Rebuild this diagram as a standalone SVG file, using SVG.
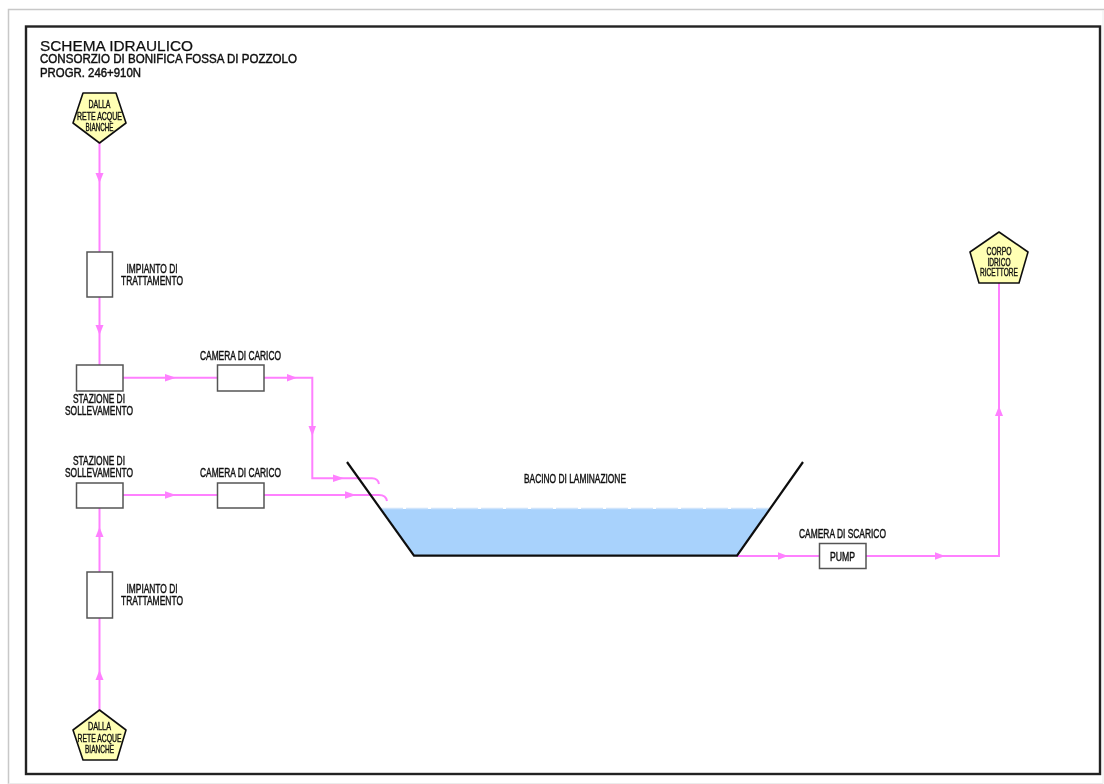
<svg xmlns="http://www.w3.org/2000/svg" width="1104" height="784" viewBox="0 0 1104 784">
<defs><filter id="soft" x="0" y="0" width="100%" height="100%" filterUnits="objectBoundingBox"><feGaussianBlur stdDeviation="0.5"/></filter></defs>
<style>
text{font-family:"Liberation Sans",Arial,sans-serif;fill:#111}
.l{font-size:12.5px;stroke:#111;stroke-width:.45;text-anchor:middle}
.s{font-size:10.5px;stroke:#111;stroke-width:.4;text-anchor:middle}
.box{fill:#fff;stroke:#555;stroke-width:1.5}
.pent{fill:#ffffb4;stroke:#111;stroke-width:1.6;stroke-linejoin:round}
.pipe{fill:none;stroke:#ff80ff;stroke-width:2}
.ah{fill:#ff80ff}
</style>
<rect width="1104" height="784" fill="#fff"/>
<g filter="url(#soft)">
<rect x="0" y="0" width="1104" height="784" fill="#fff"/>
<path d="M1104 9.500H8.500V784" fill="none" stroke="#c8c8c8" stroke-width="1.500"/>
<path d="M8.500 783.500H1103V10" fill="none" stroke="#ececec" stroke-width="1"/>
<rect x="26" y="26.500" width="1074" height="747.500" fill="none" stroke="#222" stroke-width="2.400"/>
<g id="title">
<text x="40" y="51" font-size="15.500" stroke="#111" stroke-width=".25" textLength="153" lengthAdjust="spacingAndGlyphs">SCHEMA IDRAULICO</text>
<text x="40" y="63" font-size="12.500" stroke="#111" stroke-width=".45" textLength="257" lengthAdjust="spacingAndGlyphs">CONSORZIO DI BONIFICA FOSSA DI POZZOLO</text>
<text x="40" y="77" font-size="12" stroke="#111" stroke-width=".45" textLength="101" lengthAdjust="spacingAndGlyphs">PROGR. 246+910N</text>
</g>
<g id="connectors">
<path class="pipe" d="M99.500 143V252M99.500 297V365"/>
<path class="pipe" d="M99.500 710V618M99.500 572V508"/>
<path class="pipe" d="M123 377.700H217M264 377.700H312.300V478.300H372Q378 478.300 379 484"/>
<path class="pipe" d="M123 495H217M264 495H379Q386 495 387 501"/>
<path class="pipe" d="M737 556H819M866 556H999V283"/>
<path class="ah" d="M95.500 173H103.500L99.500 183Z"/>
<path class="ah" d="M95.500 325H103.500L99.500 335Z"/>
<path class="ah" d="M95.500 680H103.500L99.500 670Z"/>
<path class="ah" d="M95.500 537H103.500L99.500 527Z"/>
<path class="ah" d="M165 374V381.500L176 377.700Z"/>
<path class="ah" d="M287 374V381.500L297 377.700Z"/>
<path class="ah" d="M165 491.300V498.700L176 495Z"/>
<path class="ah" d="M333 474.600V482L344 478.300Z"/>
<path class="ah" d="M345 491.300V498.700L356 495Z"/>
<path class="ah" d="M308.500 426H316L312.300 436Z"/>
<path class="ah" d="M778 552.300V559.700L788 556Z"/>
<path class="ah" d="M935 552.300V559.700L945 556Z"/>
<path class="ah" d="M995 416H1003L999 406Z"/>
</g>
<g id="bacino">
<path d="M381 509H770L737 556H414Z" fill="#a8d2fc"/>
<path d="M381 508.500H770" fill="none" stroke="#cfe4fb" stroke-width="1.500" stroke-dasharray="22 3"/>
<path d="M347 462L414 555.700H737L803 462" fill="none" stroke="#111" stroke-width="2.200"/>
<text class="l" x="575" y="483" textLength="102" lengthAdjust="spacingAndGlyphs">BACINO DI LAMINAZIONE</text>
</g>
<g id="source-top">
<path class="pent" d="M83 93H116L126 123L99.500 143L73 123Z"/>
<text class="s" x="99.500" y="108" textLength="22" lengthAdjust="spacingAndGlyphs">DALLA</text>
<text class="s" x="99.500" y="120" textLength="45" lengthAdjust="spacingAndGlyphs">RETE ACQUE</text>
<text class="s" x="99.500" y="130.500" textLength="28" lengthAdjust="spacingAndGlyphs">BIANCHE</text>
</g>
<g id="impianto-top">
<rect class="box" x="87" y="252" width="25.500" height="45"/>
<text class="l" x="152" y="273" textLength="51" lengthAdjust="spacingAndGlyphs">IMPIANTO DI</text>
<text class="l" x="152" y="285" textLength="62" lengthAdjust="spacingAndGlyphs">TRATTAMENTO</text>
</g>
<g id="stazione-top">
<rect class="box" x="76.500" y="365" width="46.500" height="26"/>
<text class="l" x="99" y="402.500" textLength="52" lengthAdjust="spacingAndGlyphs">STAZIONE DI</text>
<text class="l" x="99" y="415" textLength="68" lengthAdjust="spacingAndGlyphs">SOLLEVAMENTO</text>
</g>
<g id="camera-top">
<rect class="box" x="217.500" y="365" width="46.500" height="26"/>
<text class="l" x="240.500" y="360" textLength="81" lengthAdjust="spacingAndGlyphs">CAMERA DI CARICO</text>
</g>
<g id="stazione-bottom">
<rect class="box" x="76.500" y="483" width="46.500" height="25"/>
<text class="l" x="99" y="465" textLength="52" lengthAdjust="spacingAndGlyphs">STAZIONE DI</text>
<text class="l" x="99" y="476.500" textLength="68" lengthAdjust="spacingAndGlyphs">SOLLEVAMENTO</text>
</g>
<g id="camera-bottom">
<rect class="box" x="217.500" y="483" width="46.500" height="25"/>
<text class="l" x="240.500" y="476.500" textLength="81" lengthAdjust="spacingAndGlyphs">CAMERA DI CARICO</text>
</g>
<g id="impianto-bottom">
<rect class="box" x="87" y="572" width="25.500" height="46"/>
<text class="l" x="152" y="593" textLength="51" lengthAdjust="spacingAndGlyphs">IMPIANTO DI</text>
<text class="l" x="152" y="605" textLength="62" lengthAdjust="spacingAndGlyphs">TRATTAMENTO</text>
</g>
<g id="source-bottom">
<path class="pent" d="M99.500 710L126 730L117 760H83L73 730Z"/>
<text class="s" x="99.500" y="730" textLength="23" lengthAdjust="spacingAndGlyphs">DALLA</text>
<text class="s" x="99.500" y="742" textLength="44" lengthAdjust="spacingAndGlyphs">RETE ACQUE</text>
<text class="s" x="99.500" y="752.500" textLength="29" lengthAdjust="spacingAndGlyphs">BIANCHE</text>
</g>
<g id="pump">
<rect class="box" x="819.500" y="543.500" width="46.500" height="25"/>
<text class="l" x="842.500" y="560.500" textLength="25" lengthAdjust="spacingAndGlyphs">PUMP</text>
<text class="l" x="842.500" y="537.500" textLength="87" lengthAdjust="spacingAndGlyphs">CAMERA DI SCARICO</text>
</g>
<g id="corpo-idrico">
<path class="pent" d="M999 232L1028 252L1019 283H979L970 252Z"/>
<text class="s" x="999" y="254.500" textLength="25" lengthAdjust="spacingAndGlyphs">CORPO</text>
<text class="s" x="999" y="265.500" textLength="23" lengthAdjust="spacingAndGlyphs">IDRICO</text>
<text class="s" x="999" y="276" textLength="38" lengthAdjust="spacingAndGlyphs">RICETTORE</text>
</g>
</g>
</svg>
